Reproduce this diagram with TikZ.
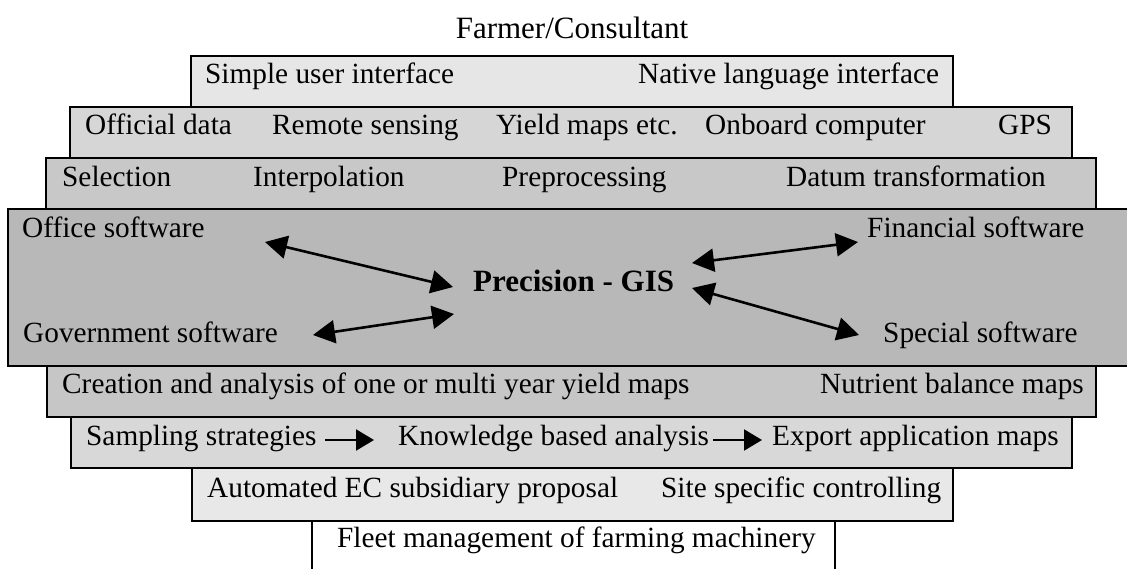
\documentclass[tikz,border=0pt]{standalone}
\usepackage{fontspec}
\setmainfont{Liberation Serif}
\usetikzlibrary{arrows.meta}
\definecolor{g1}{HTML}{E6E6E6}
\definecolor{g2}{HTML}{D6D6D6}
\definecolor{g3}{HTML}{C8C8C8}
\definecolor{g4}{HTML}{B8B8B8}
\definecolor{g5}{HTML}{C6C6C6}
\definecolor{g6}{HTML}{D8D8D8}
\definecolor{g7}{HTML}{E8E8E8}
\begin{document}
\begin{tikzpicture}[x=1pt,y=-1pt,
  layerbox/.style={draw=black, line width=1.3pt},
  lbl/.style={anchor=base west, inner sep=0pt, font=\fontsize{29.3}{34}\selectfont},
  dbl/.style={{Triangle[length=22pt,width=23pt]}-{Triangle[length=22pt,width=23pt]}, line width=2.6pt},
  flow/.style={-{Triangle[length=18pt,width=21pt]}, line width=2.2pt}]
\useasboundingbox (0,0) rectangle (1127,568);
\clip (0,0) rectangle (1127,568);
% layers
\draw[layerbox, fill=g1] (191,56) rectangle (953,107);
\draw[layerbox, fill=g2] (70,107) rectangle (1072,158);
\draw[layerbox, fill=g3] (46,158) rectangle (1096,209);
\draw[layerbox, fill=g5] (47,366) rectangle (1096,417);
\draw[layerbox, fill=g6] (71,417) rectangle (1072,468);
\draw[layerbox, fill=g7] (192,468) rectangle (953,521);
\draw[layerbox, fill=white] (312,521) rectangle (835,580);
\draw[layerbox, fill=g4] (8,209) rectangle (1140,366);
% title
\node[lbl, anchor=base, font=\fontsize{31}{36}\selectfont] (title) at (572,38) {Farmer/Consultant};
% layer 1
\node[lbl] (sui) at (205,83) {Simple user interface};
\node[lbl] (nli) at (638,83) {Native language interface};
% layer 2
\node[lbl] (od) at (85,134) {Official data};
\node[lbl] (rs) at (272,134) {Remote sensing};
\node[lbl] (ym) at (496,134) {Yield maps etc.};
\node[lbl] (oc) at (705,134) {Onboard computer};
\node[lbl] (gps) at (998,134) {GPS};
% layer 3
\node[lbl] (sel) at (62,186) {Selection};
\node[lbl] (ip) at (253,186) {Interpolation};
\node[lbl] (pp) at (502,186) {Preprocessing};
\node[lbl] (dt) at (786,186) {Datum transformation};
% main layer
\node[lbl] (office) at (22,237) {Office software};
\node[lbl] (fin) at (867,237) {Financial software};
\node[lbl] (gov) at (23,342) {Government software};
\node[lbl] (spec) at (883,342) {Special software};
\node[lbl, font=\fontsize{31}{36}\selectfont\bfseries] (gis) at (473,291) {Precision - GIS};
\coordinate (oA) at (265,242);
\coordinate (oB) at (453,287);
\coordinate (gA) at (313,335);
\coordinate (gB) at (454,314);
\coordinate (fA) at (692,263);
\coordinate (fB) at (858,242);
\coordinate (sA) at (692,288);
\coordinate (sB) at (859,335);
\draw[dbl] (oA) -- (oB);
\draw[dbl] (gA) -- (gB);
\draw[dbl] (fA) -- (fB);
\draw[dbl] (sA) -- (sB);
% layer 5
\node[lbl] (cr) at (62,393) {Creation and analysis of one or multi year yield maps};
\node[lbl] (nb) at (820,393) {Nutrient balance maps};
% layer 6
\node[lbl] (ss) at (86,445) {Sampling strategies};
\node[lbl] (kb) at (398,445) {Knowledge based analysis};
\node[lbl] (ex) at (772,445) {Export application maps};
\coordinate (a1s) at (325,440);
\coordinate (a1e) at (374,440);
\coordinate (a2s) at (713,440);
\coordinate (a2e) at (762,440);
\draw[flow] (a1s) -- (a1e);
\draw[flow] (a2s) -- (a2e);
% layer 7
\node[lbl] (ec) at (207,497) {Automated EC subsidiary proposal};
\node[lbl] (sc) at (661,497) {Site specific controlling};
% layer 8
\node[lbl] (fm) at (337,547) {Fleet management of farming machinery};
\end{tikzpicture}
\end{document}
